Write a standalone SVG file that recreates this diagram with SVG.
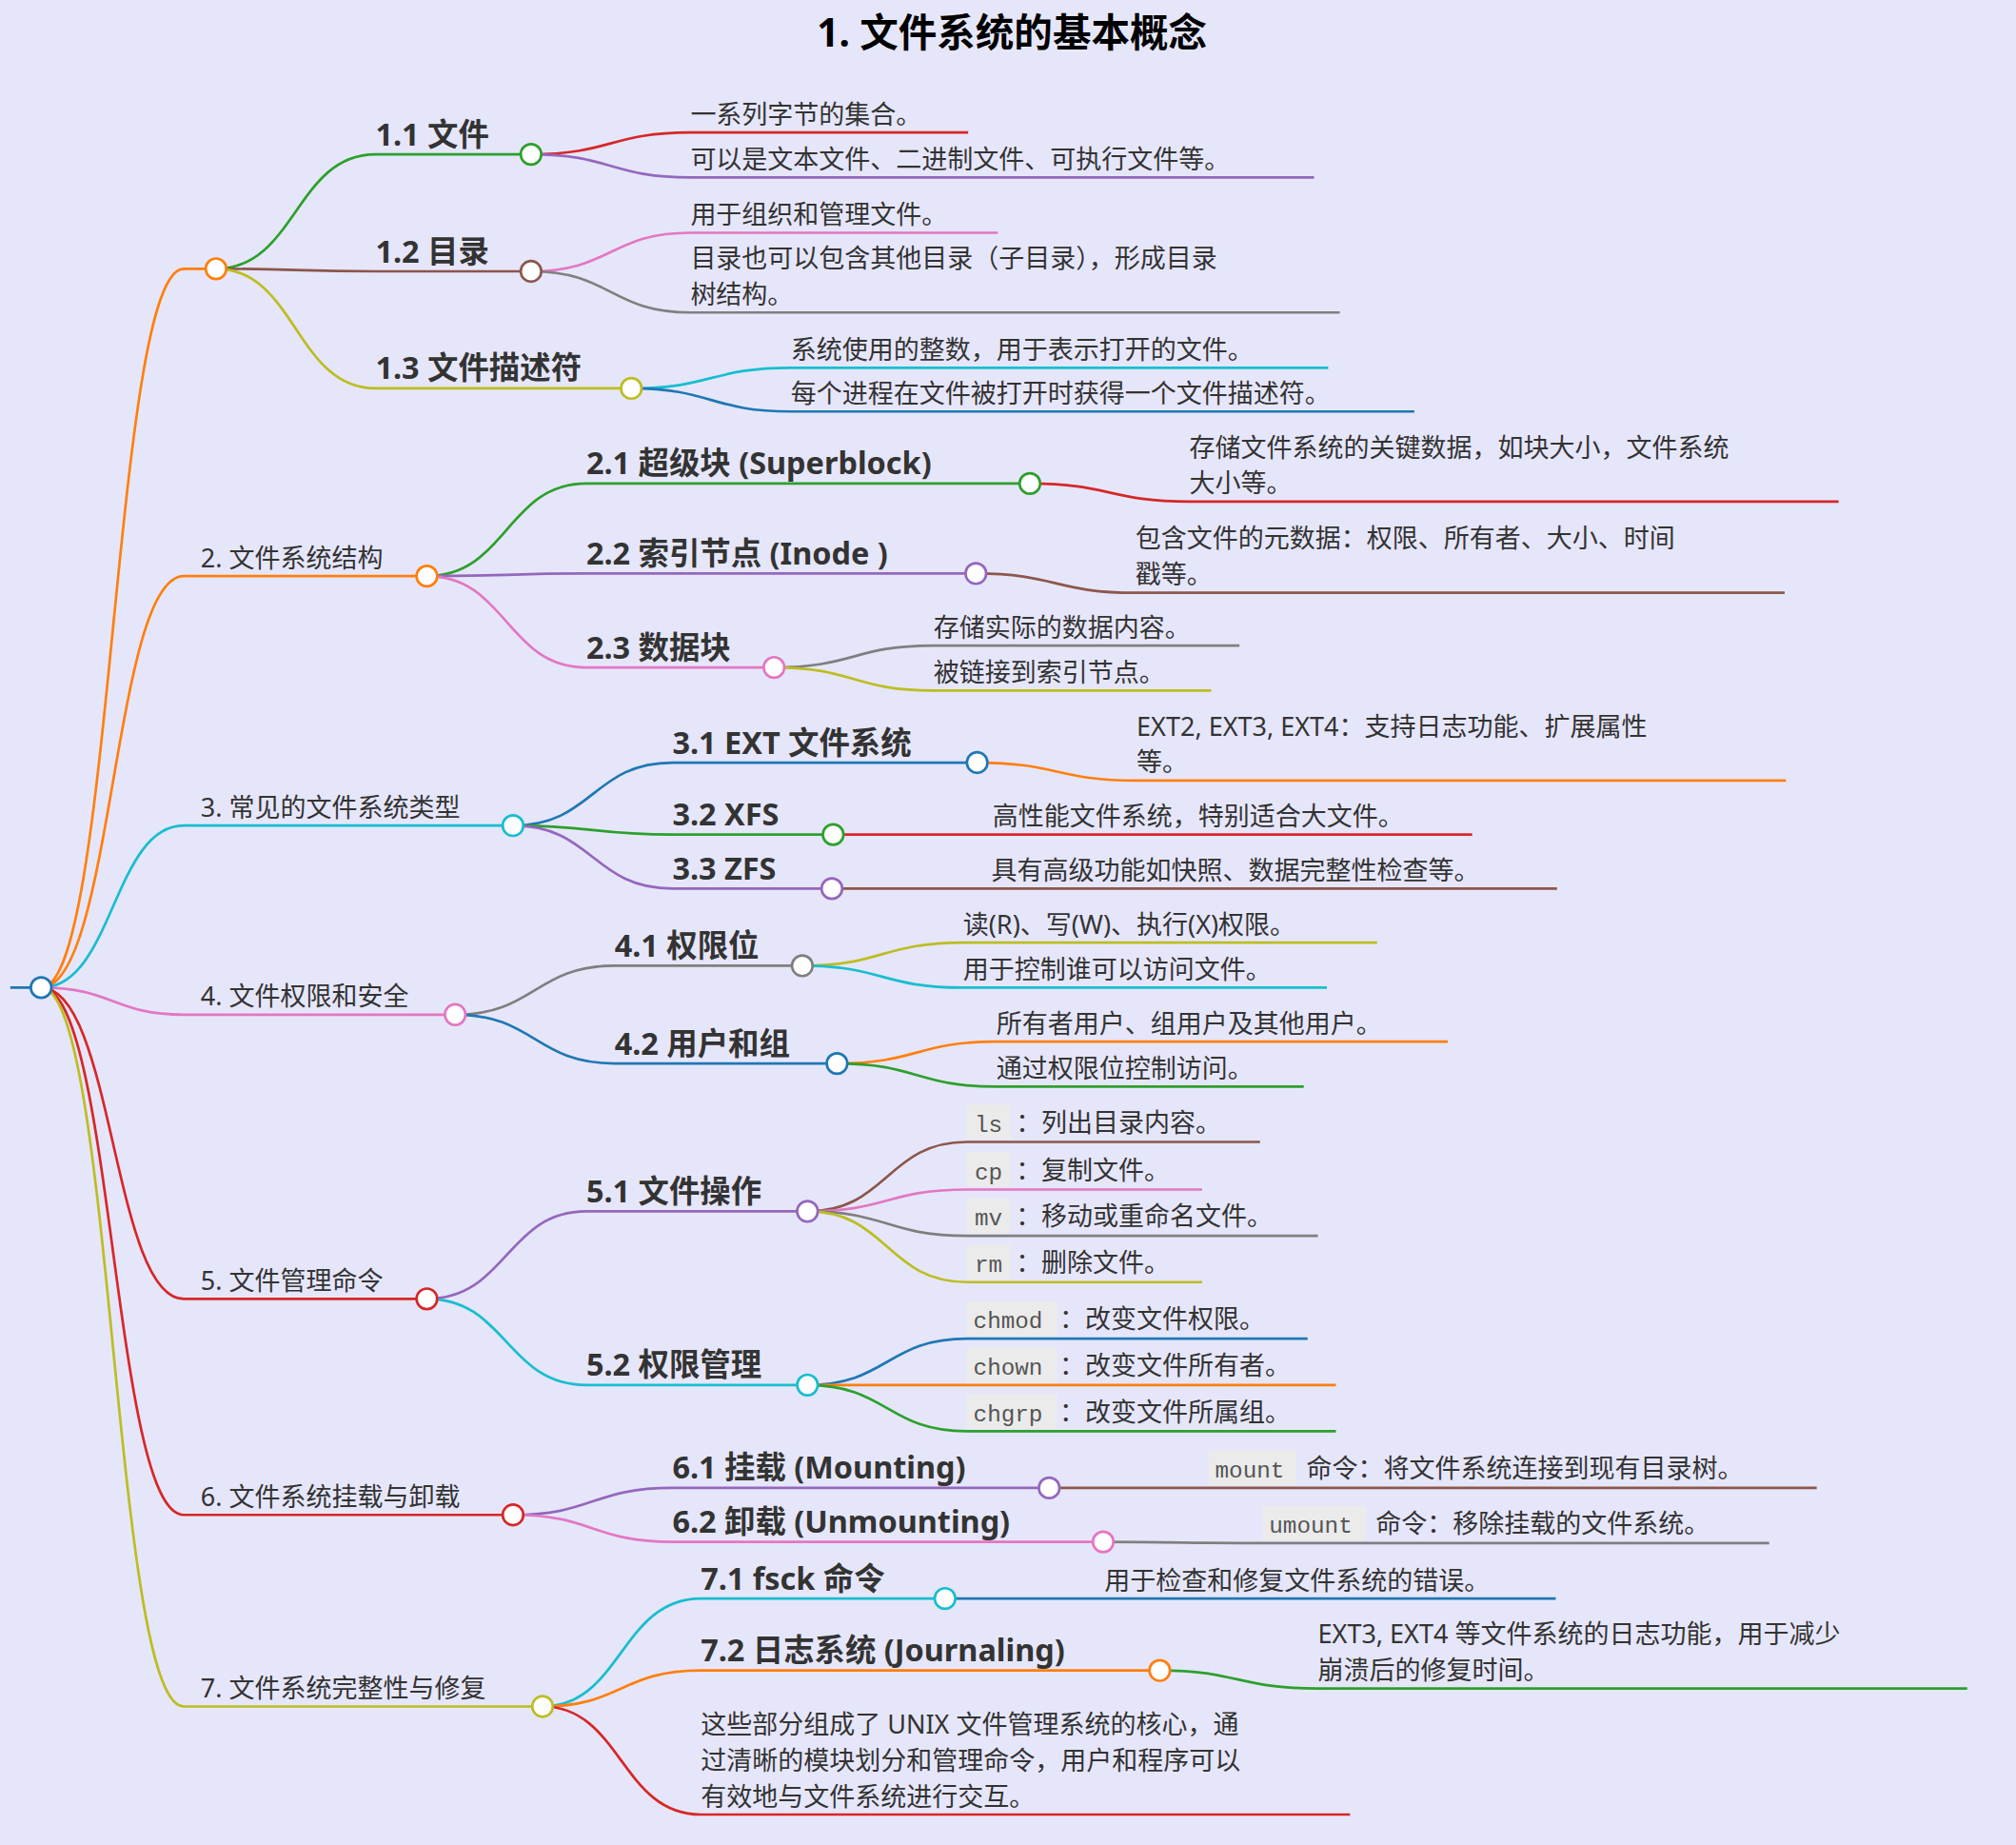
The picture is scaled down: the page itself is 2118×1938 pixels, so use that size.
<svg xmlns="http://www.w3.org/2000/svg" width="2118" height="1938" viewBox="0 0 2118 1938">
<style>
.t{font-family:"Noto Sans","Noto Sans CJK SC",sans-serif;fill:#333}
.l1{font-size:20px}
.l2{font-size:24px;font-weight:bold}
.lf{font-size:20px}
.cd{font-family:"Liberation Mono","DejaVu Sans Mono",monospace;font-size:18px;fill:#555}
.cb{fill:#ebebeb}
.e path{fill:none;stroke-width:2}
circle{fill:#fff;stroke-width:2}
</style>
<rect width="2118" height="1938" fill="#e6e6fa"/>
<g transform="scale(1.3508)">
<text class="t" x="787" y="36" text-anchor="middle" style="font-size:30px;font-weight:bold;fill:#000">1. 文件系统的基本概念</text>
<g class="e" id="connectors">
<path d="M8 768H32" stroke="#1f77b4"/>
<path d="M32 768C88 768 88 209 143 209H168" stroke="#ff7f0e"/>
<path d="M32 768C88 768 88 448 143 448H332" stroke="#ff7f0e"/>
<path d="M32 768C88 768 88 642 143 642H399" stroke="#17becf"/>
<path d="M32 768C88 768 88 789 143 789H354" stroke="#e377c2"/>
<path d="M32 768C88 768 88 1010 143 1010H332" stroke="#d62728"/>
<path d="M32 768C88 768 88 1178 143 1178H399" stroke="#d62728"/>
<path d="M32 768C88 768 88 1327 143 1327H422" stroke="#bcbd22"/>
<path d="M168 209C230 209 230 120 292 120H413" stroke="#2ca02c"/>
<path d="M168 209C230 209 230 211 292 211H413" stroke="#8c564b"/>
<path d="M168 209C230 209 230 302 292 302H491" stroke="#bcbd22"/>
<path d="M413 120C475 120 475 103 537 103H753" stroke="#d62728"/>
<path d="M413 120C475 120 475 138 537 138H1022" stroke="#9467bd"/>
<path d="M413 211C475 211 475 181 537 181H776" stroke="#e377c2"/>
<path d="M413 211C475 211 475 243 537 243H1042" stroke="#7f7f7f"/>
<path d="M491 302C553 302 553 286 615 286H1033" stroke="#17becf"/>
<path d="M491 302C553 302 553 320 615 320H1100" stroke="#1f77b4"/>
<path d="M332 448C394 448 394 376 456 376H801" stroke="#2ca02c"/>
<path d="M332 448C394 448 394 446 456 446H759" stroke="#9467bd"/>
<path d="M332 448C394 448 394 519 456 519H602" stroke="#e377c2"/>
<path d="M801 376C863 376 863 390 925 390H1430" stroke="#d62728"/>
<path d="M759 446C821 446 821 461 883 461H1388" stroke="#8c564b"/>
<path d="M602 519C664 519 664 502 726 502H964" stroke="#7f7f7f"/>
<path d="M602 519C664 519 664 537 726 537H942" stroke="#bcbd22"/>
<path d="M399 642C461 642 461 593 523 593H760" stroke="#1f77b4"/>
<path d="M399 642C461 642 461 649 523 649H648" stroke="#2ca02c"/>
<path d="M399 642C461 642 461 691 523 691H647" stroke="#9467bd"/>
<path d="M760 593C822 593 822 607 884 607H1389" stroke="#ff7f0e"/>
<path d="M648 649H1145" stroke="#d62728"/>
<path d="M647 691H1211" stroke="#8c564b"/>
<path d="M354 789C416 789 416 751 478 751H624" stroke="#7f7f7f"/>
<path d="M354 789C416 789 416 827 478 827H651" stroke="#1f77b4"/>
<path d="M624 751C686 751 686 733 749 733H1071" stroke="#bcbd22"/>
<path d="M624 751C686 751 686 768 749 768H1032" stroke="#17becf"/>
<path d="M651 827C713 827 713 810 775 810H1126" stroke="#ff7f0e"/>
<path d="M651 827C713 827 713 845 775 845H1014" stroke="#2ca02c"/>
<path d="M332 1010C394 1010 394 942 456 942H628" stroke="#9467bd"/>
<path d="M332 1010C394 1010 394 1077 456 1077H628" stroke="#17becf"/>
<path d="M628 942C690 942 690 888 752 888H980" stroke="#8c564b"/>
<path d="M628 942C690 942 690 925 752 925H935" stroke="#e377c2"/>
<path d="M628 942C690 942 690 961 752 961H1025" stroke="#7f7f7f"/>
<path d="M628 942C690 942 690 997 752 997H935" stroke="#bcbd22"/>
<path d="M628 1077C690 1077 690 1041 752 1041H1017" stroke="#1f77b4"/>
<path d="M628 1077C690 1077 690 1077 752 1077H1039" stroke="#ff7f0e"/>
<path d="M628 1077C690 1077 690 1113 752 1113H1039" stroke="#2ca02c"/>
<path d="M399 1178C461 1178 461 1157 523 1157H816" stroke="#9467bd"/>
<path d="M399 1178C461 1178 461 1199 523 1199H858" stroke="#e377c2"/>
<path d="M816 1157C878 1157 878 1157 940 1157H1413" stroke="#8c564b"/>
<path d="M858 1199C920 1199 920 1200 982 1200H1376" stroke="#7f7f7f"/>
<path d="M422 1327C483 1327 483 1243 545 1243H735" stroke="#17becf"/>
<path d="M422 1327C483 1327 483 1299 545 1299H902" stroke="#ff7f0e"/>
<path d="M422 1327C483 1327 483 1411 545 1411H1050" stroke="#d62728"/>
<path d="M735 1243C797 1243 797 1243 859 1243H1210" stroke="#1f77b4"/>
<path d="M902 1299C963 1299 963 1313 1025 1313H1530" stroke="#2ca02c"/>
</g>
<g id="root"><circle cx="32" cy="768" r="8" stroke="#1f77b4"/></g>
<g id="n1"><circle cx="168" cy="209" r="8" stroke="#ff7f0e"/></g>
<g id="n2"><text class="t l1" x="156" y="441">2. 文件系统结构</text><circle cx="332" cy="448" r="8" stroke="#ff7f0e"/></g>
<g id="n3"><text class="t l1" x="156" y="635">3. 常见的文件系统类型</text><circle cx="399" cy="642" r="8" stroke="#17becf"/></g>
<g id="n4"><text class="t l1" x="156" y="782">4. 文件权限和安全</text><circle cx="354" cy="789" r="8" stroke="#e377c2"/></g>
<g id="n5"><text class="t l1" x="156" y="1003">5. 文件管理命令</text><circle cx="332" cy="1010" r="8" stroke="#d62728"/></g>
<g id="n6"><text class="t l1" x="156" y="1171">6. 文件系统挂载与卸载</text><circle cx="399" cy="1178" r="8" stroke="#d62728"/></g>
<g id="n7"><text class="t l1" x="156" y="1320">7. 文件系统完整性与修复</text><circle cx="422" cy="1327" r="8" stroke="#bcbd22"/></g>
<g id="n11"><text class="t l2" x="292" y="113">1.1 文件</text><circle cx="413" cy="120" r="8" stroke="#2ca02c"/></g>
<g id="n12"><text class="t l2" x="292" y="204">1.2 目录</text><circle cx="413" cy="211" r="8" stroke="#8c564b"/></g>
<g id="n13"><text class="t l2" x="292" y="295">1.3 文件描述符</text><circle cx="491" cy="302" r="8" stroke="#bcbd22"/></g>
<g id="n21"><text class="t l2" x="456" y="369">2.1 超级块 (Superblock)</text><circle cx="801" cy="376" r="8" stroke="#2ca02c"/></g>
<g id="n22"><text class="t l2" x="456" y="439">2.2 索引节点 (Inode )</text><circle cx="759" cy="446" r="8" stroke="#9467bd"/></g>
<g id="n23"><text class="t l2" x="456" y="512">2.3 数据块</text><circle cx="602" cy="519" r="8" stroke="#e377c2"/></g>
<g id="n31"><text class="t l2" x="523" y="586">3.1 EXT 文件系统</text><circle cx="760" cy="593" r="8" stroke="#1f77b4"/></g>
<g id="n32"><text class="t l2" x="523" y="642">3.2 XFS</text><circle cx="648" cy="649" r="8" stroke="#2ca02c"/></g>
<g id="n33"><text class="t l2" x="523" y="684">3.3 ZFS</text><circle cx="647" cy="691" r="8" stroke="#9467bd"/></g>
<g id="n41"><text class="t l2" x="478" y="744">4.1 权限位</text><circle cx="624" cy="751" r="8" stroke="#7f7f7f"/></g>
<g id="n42"><text class="t l2" x="478" y="820">4.2 用户和组</text><circle cx="651" cy="827" r="8" stroke="#1f77b4"/></g>
<g id="n51"><text class="t l2" x="456" y="935">5.1 文件操作</text><circle cx="628" cy="942" r="8" stroke="#9467bd"/></g>
<g id="n52"><text class="t l2" x="456" y="1070">5.2 权限管理</text><circle cx="628" cy="1077" r="8" stroke="#17becf"/></g>
<g id="n61"><text class="t l2" x="523" y="1150">6.1 挂载 (Mounting)</text><circle cx="816" cy="1157" r="8" stroke="#9467bd"/></g>
<g id="n62"><text class="t l2" x="523" y="1192">6.2 卸载 (Unmounting)</text><circle cx="858" cy="1199" r="8" stroke="#e377c2"/></g>
<g id="n71"><text class="t l2" x="545" y="1236">7.1 fsck 命令</text><circle cx="735" cy="1243" r="8" stroke="#17becf"/></g>
<g id="n72"><text class="t l2" x="545" y="1292">7.2 日志系统 (Journaling)</text><circle cx="902" cy="1299" r="8" stroke="#ff7f0e"/></g>
<g id="leaves">
<text class="t lf" x="537" y="96">一系列字节的集合。</text>
<text class="t lf" x="537" y="131">可以是文本文件、二进制文件、可执行文件等。</text>
<text class="t lf" x="537" y="174">用于组织和管理文件。</text>
<text class="t lf" x="537" y="208">目录也可以包含其他目录（子目录），形成目录</text>
<text class="t lf" x="537" y="236">树结构。</text>
<text class="t lf" x="615" y="279">系统使用的整数，用于表示打开的文件。</text>
<text class="t lf" x="615" y="313">每个进程在文件被打开时获得一个文件描述符。</text>
<text class="t lf" x="925" y="355">存储文件系统的关键数据，如块大小，文件系统</text>
<text class="t lf" x="925" y="383">大小等。</text>
<text class="t lf" x="883" y="426">包含文件的元数据：权限、所有者、大小、时间</text>
<text class="t lf" x="883" y="454">戳等。</text>
<text class="t lf" x="726" y="495">存储实际的数据内容。</text>
<text class="t lf" x="726" y="530">被链接到索引节点。</text>
<text class="t lf" x="884" y="572">EXT2, EXT3, EXT4：支持日志功能、扩展属性</text>
<text class="t lf" x="884" y="600">等。</text>
<text class="t lf" x="772" y="642">高性能文件系统，特别适合大文件。</text>
<text class="t lf" x="771" y="684">具有高级功能如快照、数据完整性检查等。</text>
<text class="t lf" x="749" y="726">读(R)、写(W)、执行(X)权限。</text>
<text class="t lf" x="749" y="761">用于控制谁可以访问文件。</text>
<text class="t lf" x="775" y="803">所有者用户、组用户及其他用户。</text>
<text class="t lf" x="775" y="838">通过权限位控制访问。</text>
<rect class="cb" x="752" y="859" width="34" height="27"/><text class="cd" x="758" y="880">ls</text><text class="t lf" x="790" y="880">：列出目录内容。</text>
<rect class="cb" x="752" y="896" width="34" height="27"/><text class="cd" x="758" y="917">cp</text><text class="t lf" x="790" y="917">：复制文件。</text>
<rect class="cb" x="752" y="932" width="34" height="27"/><text class="cd" x="758" y="953">mv</text><text class="t lf" x="790" y="953">：移动或重命名文件。</text>
<rect class="cb" x="752" y="968" width="34" height="27"/><text class="cd" x="758" y="989">rm</text><text class="t lf" x="790" y="989">：删除文件。</text>
<rect class="cb" x="752" y="1012" width="70" height="27"/><text class="cd" x="757" y="1033">chmod</text><text class="t lf" x="824" y="1033">：改变文件权限。</text>
<rect class="cb" x="752" y="1048" width="70" height="27"/><text class="cd" x="757" y="1069">chown</text><text class="t lf" x="824" y="1069">：改变文件所有者。</text>
<rect class="cb" x="752" y="1084" width="70" height="27"/><text class="cd" x="757" y="1105">chgrp</text><text class="t lf" x="824" y="1105">：改变文件所属组。</text>
<rect class="cb" x="940" y="1128" width="68" height="27"/><text class="cd" x="945" y="1149">mount</text><text class="t lf" x="1016" y="1149">命令：将文件系统连接到现有目录树。</text>
<rect class="cb" x="982" y="1171" width="80" height="27"/><text class="cd" x="987" y="1192">umount</text><text class="t lf" x="1070" y="1192">命令：移除挂载的文件系统。</text>
<text class="t lf" x="859" y="1236">用于检查和修复文件系统的错误。</text>
<text class="t lf" x="1025" y="1278">EXT3, EXT4 等文件系统的日志功能，用于减少</text>
<text class="t lf" x="1025" y="1306">崩溃后的修复时间。</text>
<text class="t lf" x="545" y="1348">这些部分组成了 UNIX 文件管理系统的核心，通</text>
<text class="t lf" x="545" y="1376">过清晰的模块划分和管理命令，用户和程序可以</text>
<text class="t lf" x="545" y="1404">有效地与文件系统进行交互。</text>
</g>
</g>
</svg>
